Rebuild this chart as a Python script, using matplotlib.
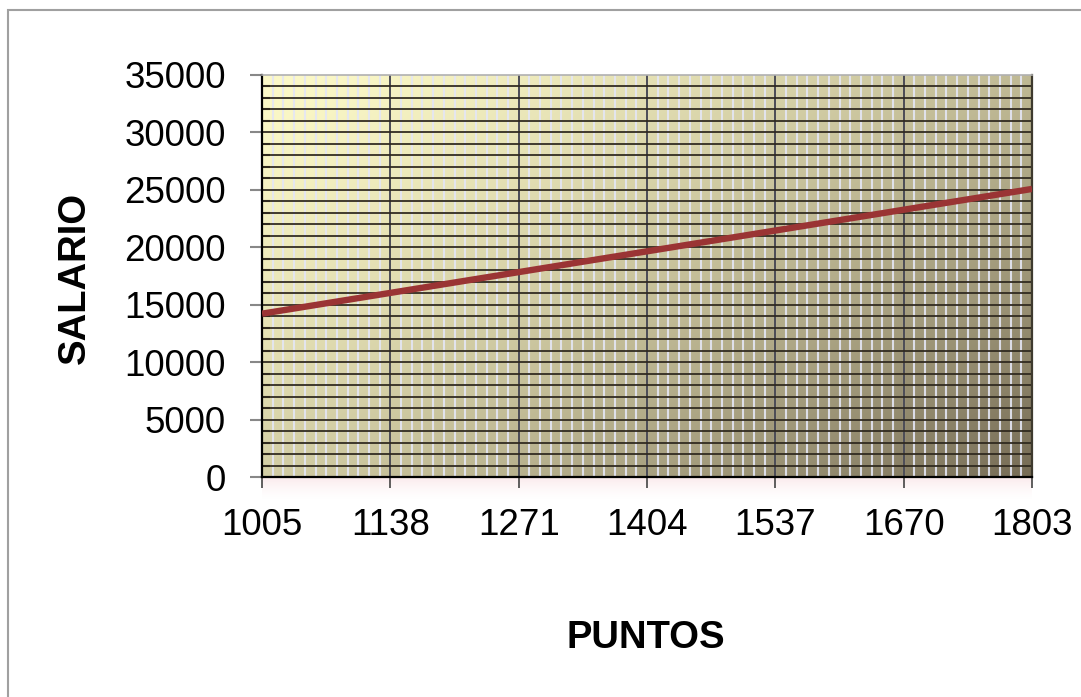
import matplotlib.pyplot as plt
import numpy as np
from matplotlib.patches import Rectangle
from matplotlib.ticker import MultipleLocator

# data
puntos = [1005, 1138, 1271, 1404, 1537, 1670, 1803]
salario = [14220, 16030, 17840, 19650, 21460, 23270, 25080]
y_ticks = [0, 5000, 10000, 15000, 20000, 25000, 30000, 35000]

plt.rcParams['font.family'] = ['Liberation Sans', 'DejaVu Sans']

fig = plt.figure(figsize=(10.81, 6.97), dpi=100)
ax = fig.add_axes([0.2424, 0.3156, 0.7123, 0.5768])

# outer chart border (only top/left edges are visible in the picture)
fig.patches.append(Rectangle((8 / 1081, -0.1), 1.2, 1.1 - 10 / 697,
                             transform=fig.transFigure, fill=False,
                             edgecolor='#a0a0a0', linewidth=1.5))

# diagonal gradient background, light yellow -> dark brownish grey
nx, ny = 300, 200
gx, gy = np.meshgrid(np.linspace(0, 1, nx), np.linspace(0, 1, ny))
t = np.clip(0.57 * gx + 0.43 * gy, 0, 1) ** 1.4
c0 = np.array([0xfc, 0xf9, 0xc8]) / 255
c1 = np.array([0x76, 0x6c, 0x56]) / 255
img = c0[None, None, :] * (1 - t[..., None]) + c1[None, None, :] * t[..., None]
ax.imshow(img, extent=[1005, 1803, 0, 35000], origin='upper', aspect='auto',
          zorder=0, interpolation='bilinear')

# faint pink reflection under the x axis
refl = np.zeros((40, 2, 4))
refl[..., 0] = 0.95
refl[..., 1] = 0.76
refl[..., 2] = 0.79
refl[..., 3] = (np.linspace(1, 0, 40) ** 1.5 * 0.35)[:, None]
ax.imshow(refl, extent=[1005, 1803, -2100, 0], origin='upper', aspect='auto',
          zorder=0, clip_on=False)

ax.set_xlim(1005, 1803)
ax.set_ylim(0, 35000)

# grid: light minor verticals, dark major verticals, dark horizontals
step = 133 / 12
for xv in np.arange(1005 + step, 1803, step):
    ax.axvline(xv, color='#e4e6f4', lw=1.5, alpha=0.9, zorder=1)
for xv in puntos[1:-1]:
    ax.axvline(xv, color='#3f3f48', lw=1.3, zorder=2)
for yv in range(1000, 35000, 1000):
    ax.axhline(yv, color='#2e281e', lw=1.4, alpha=0.9, zorder=2)

ax.plot(puntos, salario, color='#9a3434', lw=4.6, zorder=4,
        solid_capstyle='butt')

ax.set_xticks(puntos)
ax.set_xticklabels([str(p) for p in puntos])
ax.set_yticks(y_ticks)
ax.yaxis.set_minor_locator(MultipleLocator(1000))
ax.tick_params(axis='y', which='major', direction='out', length=9, width=1.5,
               color='#888888', labelsize=26.5, pad=17)
ax.tick_params(axis='y', which='minor', direction='in', length=6, width=1.5,
               color='#3a3326')
ax.tick_params(axis='x', which='major', direction='out', length=8, width=1.2,
               color='#444444', labelsize=26.5, pad=14)

for s in ['left', 'bottom']:
    ax.spines[s].set_color('black')
    ax.spines[s].set_linewidth(1.6)
ax.spines['top'].set_color('#b0b0b0')
ax.spines['top'].set_linewidth(1.2)
ax.spines['right'].set_color('#3e3a2e')
ax.spines['right'].set_linewidth(1.6)

fig.text(646 / 1081, 1 - 638 / 697, 'PUNTOS', fontsize=27.5, fontweight='bold',
         ha='center', va='center')
fig.text(75 / 1081, 1 - 278 / 697, 'SALARIO', fontsize=27.5, fontweight='bold',
         ha='center', va='center', rotation=90)

fig.savefig('out.png', dpi=100)
